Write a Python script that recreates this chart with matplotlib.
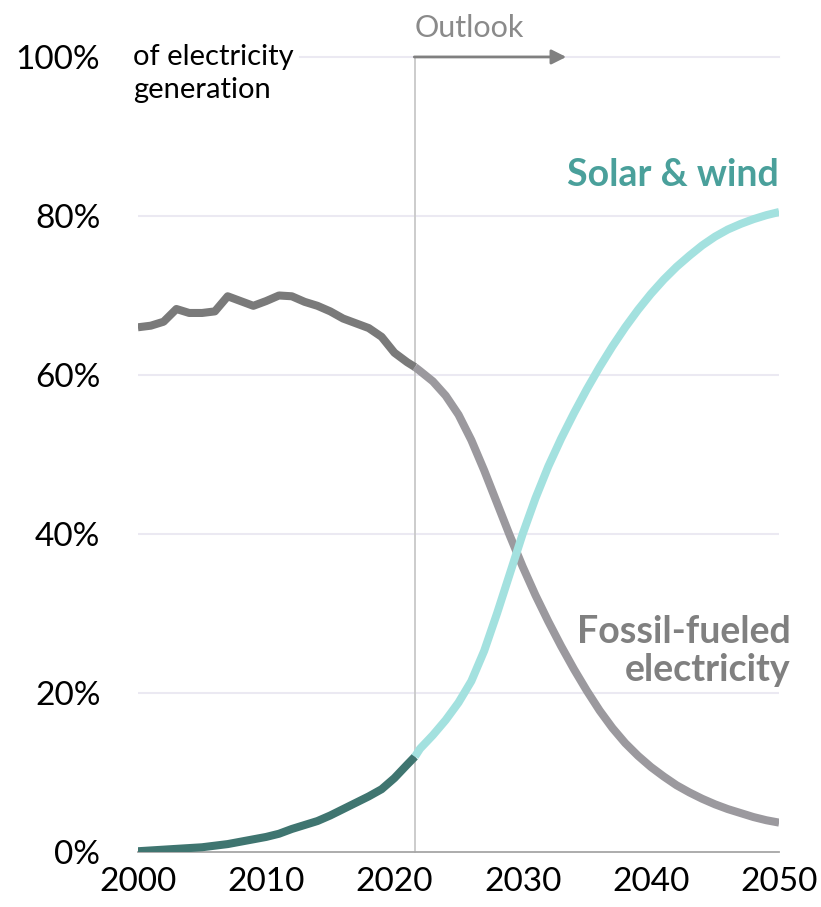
import numpy as np
import matplotlib.pyplot as plt

plt.rcParams['font.family'] = ['Lato', 'DejaVu Sans']

# Historical shares (% of electricity generation), last point is the outlook split
hist_years = list(range(2000, 2022)) + [2021.6]
fossil_hist = [66.0, 66.2, 66.7, 68.3, 67.8, 67.8, 68.0, 69.9, 69.3, 68.7, 69.3,
               70.0, 69.9, 69.2, 68.7, 68.0, 67.1, 66.5, 65.9, 64.8, 62.8, 61.6, 61.0]
solar_hist = [0.1, 0.2, 0.3, 0.4, 0.5, 0.6, 0.8, 1.0, 1.3, 1.6, 1.9,
              2.3, 2.9, 3.4, 3.9, 4.6, 5.4, 6.2, 7.0, 7.9, 9.3, 11.0, 12.0]

# Outlook
out_years = [2021.6] + list(range(2022, 2051))
fossil_out = [61.0, 60.5, 59.2, 57.4, 55.0, 51.8, 48.0, 43.9, 39.8, 35.9, 32.3,
              29.0, 25.9, 23.0, 20.3, 17.8, 15.6, 13.7, 12.1, 10.7, 9.5,
              8.4, 7.5, 6.7, 6.0, 5.4, 4.9, 4.4, 4.0, 3.7]
solar_out = [12.0, 13.0, 14.7, 16.6, 18.8, 21.5, 25.3, 30.0, 35.0, 40.0, 44.5,
             48.5, 52.0, 55.2, 58.2, 61.0, 63.6, 66.0, 68.2, 70.2, 72.0,
             73.6, 75.0, 76.3, 77.4, 78.3, 79.0, 79.6, 80.1, 80.5]

x_ticks = [2000, 2010, 2020, 2030, 2040, 2050]
y_ticks = [0, 20, 40, 60, 80, 100]
split_year = 2021.6

fig = plt.figure(figsize=(8.21, 9.07), dpi=100)
ax = fig.add_axes([0.168, 0.0606, 0.781, 0.8766])
ax.set_xlim(2000, 2050)
ax.set_ylim(0, 100)

# grid lines (the 100% one stops short of the unit text)
for v in y_ticks[1:-1]:
    ax.axhline(v, color='#ebe9f2', lw=1.5, zorder=0)
ax.plot([2012.6, 2050], [100, 100], color='#ebe9f2', lw=1.5, zorder=0, clip_on=False)

# outlook divider and arrow
ax.plot([split_year, split_year], [0, 100], color='#c8c8c8', lw=1.3, zorder=1, clip_on=False)
ax.annotate('', xy=(2033.4, 100), xytext=(split_year - 0.05, 100),
            arrowprops=dict(arrowstyle='-|>', color='#808080', lw=2,
                            mutation_scale=22, shrinkA=0, shrinkB=0),
            annotation_clip=False)
ax.text(split_year, 103.6, 'Outlook', color='#8a8a8a', fontsize=22,
        ha='left', va='center', clip_on=False)

lw = 5.8
ax.plot(hist_years, fossil_hist, color='#7a7a7a', lw=lw, solid_capstyle='butt',
        solid_joinstyle='round', zorder=3)
ax.plot(out_years, fossil_out, color='#9b999e', lw=lw, solid_capstyle='butt',
        solid_joinstyle='round', zorder=3)
ax.plot(hist_years, solar_hist, color='#3f7570', lw=lw, solid_capstyle='butt',
        solid_joinstyle='round', zorder=4)
ax.plot(out_years, solar_out, color='#a3e1df', lw=lw, solid_capstyle='butt',
        solid_joinstyle='round', zorder=4)

# labels
ax.text(2050, 85.1, 'Solar & wind', color='#4aa09b', fontsize=27, fontweight='bold',
        ha='right', va='center')
ax.text(2050.9, 25.3, 'Fossil-fueled\nelectricity', color='#808080', fontsize=27,
        fontweight='bold', ha='right', va='center', linespacing=1.15, clip_on=False)
ax.text(1999.6, 101.6, 'of electricity\ngeneration', color='black', fontsize=21,
        ha='left', va='top', linespacing=1.3, clip_on=False)

ax.set_xticks(x_ticks)
ax.set_xticklabels([str(x) for x in x_ticks])
ax.set_yticks(y_ticks)
ax.set_yticklabels([f'{v}%' for v in y_ticks])
ax.tick_params(axis='both', length=0, labelsize=24)
ax.tick_params(axis='x', pad=11)
ax.tick_params(axis='y', pad=27)

for s in ['top', 'right', 'left']:
    ax.spines[s].set_visible(False)
ax.spines['bottom'].set_color('#a6a6a6')
ax.spines['bottom'].set_linewidth(1.3)

fig.savefig('out.png', dpi=100)
